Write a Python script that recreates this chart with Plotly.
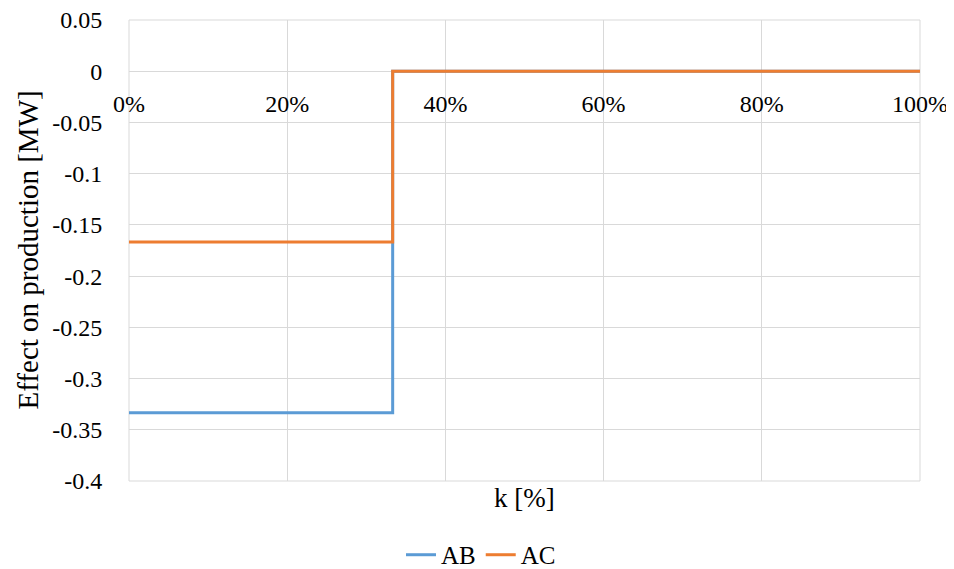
import plotly.graph_objects as go

# data
k_ab = [0, 1/3, 1/3, 1]
eff_ab = [-1/3, -1/3, 0, 0]
k_ac = [0, 1/3, 1/3, 1]
eff_ac = [-1/6, -1/6, 0, 0]
x_ticks = [0, 0.2, 0.4, 0.6, 0.8, 1.0]
x_ticktext = ["0%", "20%", "40%", "60%", "80%", "100%"]
y_ticks = [0.05, 0, -0.05, -0.1, -0.15, -0.2, -0.25, -0.3, -0.35, -0.4]
y_ticktext = ["0.05", "0", "-0.05", "-0.1", "-0.15", "-0.2", "-0.25", "-0.3", "-0.35", "-0.4"]

FONT = "Liberation Serif"
GRID = "#D9D9D9"

# page body adds an 8px margin; size the figure so the plot lands where the reference has it
fig = go.Figure()
fig.add_trace(go.Scatter(x=k_ab, y=eff_ab, mode="lines", name="AB",
                         line=dict(color="#5B9BD5", width=3)))
fig.add_trace(go.Scatter(x=k_ac, y=eff_ac, mode="lines", name="AC",
                         line=dict(color="#ED7D31", width=3)))

ymin, ymax = -0.4, 0.05
fig.update_layout(
    width=946, height=561,
    margin=dict(l=121, r=34, t=12, b=88, autoexpand=False),
    paper_bgcolor="white", plot_bgcolor="white",
    font=dict(family=FONT, size=24, color="#000000"),
    showlegend=True,
    legend=dict(orientation="h", xref="container", x=0.5, xanchor="center",
                yref="container", y=0.025, yanchor="middle",
                font=dict(family=FONT, size=25, color="#000000"), itemwidth=30,
                tracegroupgap=0),
    xaxis=dict(range=[0, 1], tickvals=x_ticks, ticktext=x_ticktext,
               showgrid=True, gridcolor=GRID, gridwidth=1,
               zeroline=False, showline=False, automargin=False,
               anchor="free", position=(0 - ymin) / (ymax - ymin),
               ticks="outside", ticklen=11, tickcolor="rgba(0,0,0,0)",
               ticklabeloverflow="allow",
               tickfont=dict(family=FONT, size=24, color="#000000")),
    yaxis=dict(range=[ymin, ymax], tickvals=y_ticks, ticktext=y_ticktext,
               showgrid=True, gridcolor=GRID, gridwidth=1,
               zeroline=False, showline=False, automargin=False,
               ticks="outside", ticklen=21, tickcolor="rgba(0,0,0,0)",
               ticklabeloverflow="allow",
               tickfont=dict(family=FONT, size=24, color="#000000")),
    shapes=[dict(type="rect", xref="paper", yref="paper", x0=0, x1=1, y0=0, y1=1,
                 line=dict(color=GRID, width=1), layer="below")],
    annotations=[
        dict(text="k [%]", x=0.5, y=(472 - 489) / 461, xref="paper", yref="paper",
             xanchor="center", yanchor="middle", showarrow=False,
             font=dict(family=FONT, size=27, color="#000000")),
        dict(text="Effect on production [MW]", x=(19 - 121) / 791, y=0.5,
             xref="paper", yref="paper", textangle=-90,
             xanchor="center", yanchor="middle", showarrow=False,
             font=dict(family=FONT, size=29, color="#000000")),
    ],
)

fig.write_html("out.html")
